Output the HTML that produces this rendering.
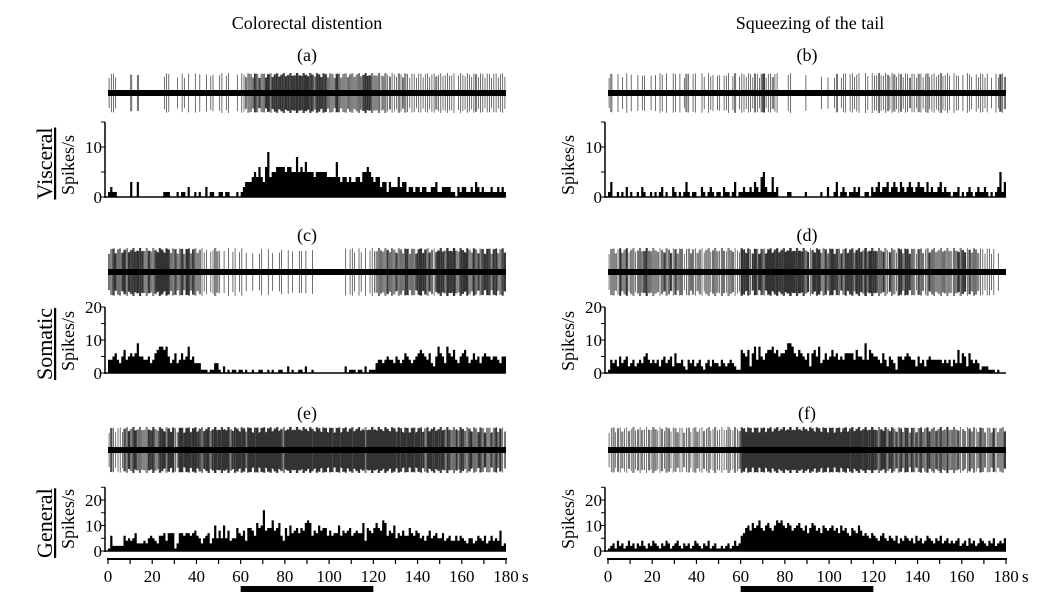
<!DOCTYPE html>
<html><head><meta charset="utf-8"><style>
body{margin:0;background:#fff;width:1056px;height:603px;overflow:hidden}
svg text{font-family:"Liberation Serif",serif;fill:#000}
</style></head><body>
<svg id="fig" width="1056" height="603" viewBox="0 0 1056 603" font-family="Liberation Serif, serif">
<text x="307" y="29" font-size="18" font-family="Liberation Serif, serif" text-anchor="middle">Colorectal distention</text>
<text x="810" y="29" font-size="18" font-family="Liberation Serif, serif" text-anchor="middle">Squeezing of the tail</text>
</svg>
<script>
// Spikes/s per 1-s bin, 180 bins per panel
const binsVisceralLeft=[1,2,1,1,0,0,0,0,0,0,3,0,0,3,0,0,0,0,0,0, 0,0,0,0,0,1,1,1,0,0,0,1,0,1,1,0,2,0,0,1, 0,1,0,0,2,0,1,1,0,0,1,1,0,1,1,0,0,0,1,0, 1,2,3,3,3,4,5,4,6,4,3,6,9,4,5,5,6,6,6,6, 5,6,6,5,5,8,5,6,5,7,5,5,5,4,5,5,5,5,5,4, 4,4,4,7,4,3,4,4,3,4,3,3,4,4,3,5,5,6,5,4, 3,4,4,2,3,3,1,3,2,2,2,4,2,3,3,1,2,2,1,2, 2,1,2,2,1,1,2,2,3,1,1,2,2,2,2,1,1,0,2,1, 2,2,1,1,2,1,3,2,1,2,1,1,1,2,1,1,2,1,2,1];
const binsVisceralRight=[1,3,0,0,1,0,1,0,2,0,1,0,0,1,0,2,1,0,0,1, 0,1,0,1,2,0,1,0,0,2,1,0,1,0,1,3,1,0,1,1, 0,0,2,1,0,1,2,1,0,1,1,0,2,1,1,0,1,3,0,1, 1,2,1,1,2,1,3,2,1,4,5,2,1,1,4,1,2,0,0,0, 0,1,1,0,0,0,0,0,0,1,0,0,0,0,0,0,1,0,0,2, 0,0,1,3,0,1,2,1,0,1,1,2,1,2,0,0,1,1,0,2, 1,2,3,1,2,2,3,1,2,3,2,1,3,2,1,2,3,2,1,2, 3,2,2,1,3,1,2,1,1,2,3,1,2,1,1,0,1,1,2,0, 1,0,1,2,1,0,1,2,1,1,2,1,0,1,0,1,2,5,1,3];
const binsSomaticLeft=[4,4,5,6,4,3,5,7,4,5,6,5,6,9,5,5,4,4,5,3, 4,6,7,8,8,7,8,5,3,4,6,3,4,6,4,5,8,4,5,3, 3,3,1,1,1,0,1,1,3,3, 1,0,2,0,1,0,1,1,0,1, 1,0,1,0,0,1,0,0,1,1, 0,0,1,0,1,0,0,1,1,0, 0,2,0,1,0,0,1,1,0,2, 0,0,1,0,0,0,0,0,0,0, 0,0,0,0,0,0,0,2,0,1, 1,1,0,1,1,0,2,0,1,1, 1,3,4,4,3,4,5,4,4,3, 5,4,3,4,6,5,4,3,4,5, 6,7,6,5,4,6,3,2,5,8, 6,5,3,8,6,5,7,4,3,5, 6,7,5,3,4,6,4,5,3,5, 6,5,5,4,5,5,4,3,5,5];
const binsSomaticRight=[1,4,3,4,2,5,3,4,5,2,3,4,2,3,4,3,5,6,4,3, 4,3,4,2,4,5,3,4,5,2,6,3,3,4,2,1,4,3,4,2, 3,4,2,1,3,4,2,4,3,3,2,4,3,2,3,4,3,2,1,1, 7,6,5,7,2,6,8,4,8,5,4,6,7,7,8,6,7,5,6,6, 7,9,9,8,6,5,7,6,5,4,6,2,6,7,5,8,3,4,6,4, 5,7,5,6,4,5,4,6,6,6,6,4,7,5,5,4,9,4,7,6, 5,5,4,3,6,4,2,5,4,3,1,5,5,4,5,6,5,4,4,2, 5,3,4,2,4,5,4,4,4,4,4,3,4,3,4,2,4,3,7,3, 6,5,2,6,4,3,4,3,1,2,2,2,1,1,1,0,1,0,0,0];
const binsGeneralLeft=[1,6,2,2,2,2,2,6,4,5,4,5,7,3,3,3,4,3,5,6, 5,4,3,6,6,7,4,7,7,7,1,3,7,7,6,7,7,6,7,8, 6,5,3,5,6,7,3,5,10,5,8,5,10,5,8,4,5,5,9,7, 6,8,4,9,9,8,6,11,9,10,16,8,9,9,12,8,9,11,6,4, 9,6,10,7,8,9,7,9,8,11,12,11,6,8,7,10,8,9,9,6, 8,6,7,7,10,6,8,7,8,9,6,7,8,7,7,11,4,9,8,7, 9,11,9,8,12,11,6,8,7,10,5,7,6,8,6,6,9,7,6,8, 7,5,6,4,6,8,5,6,7,5,5,7,4,5,6,4,4,6,4,6, 5,4,3,5,5,3,4,6,5,4,6,3,4,6,4,5,4,8,2,3];
const binsGeneralRight=[1,2,3,1,4,2,3,1,2,4,2,3,1,3,2,4,2,1,3,2, 4,3,2,1,3,2,4,3,1,2,3,4,2,1,3,2,3,1,2,4, 3,2,1,3,2,4,1,2,3,1,1,2,1,2,3,1,2,4,2,3, 6,7,9,10,8,11,9,10,12,9,8,10,11,9,8,10,12,11,12,10, 9,11,10,8,9,10,11,9,8,10,7,9,11,10,8,9,7,10,9,8, 9,10,8,9,7,10,8,9,7,6,9,8,7,10,8,6,7,6,5,7, 6,5,4,6,7,5,4,6,5,4,6,3,5,4,6,5,4,5,3,6, 4,5,3,4,6,5,4,3,5,4,6,3,4,5,3,4,3,4,5,2, 3,4,2,5,3,4,2,3,5,4,3,2,4,3,5,2,3,4,3,5];
const xTicks=[0,20,40,60,80,100,120,140,160,180];
const stimulus=[60,120];

const svg=document.getElementById('fig');
const NS='http://www.w3.org/2000/svg';
const FF='Liberation Serif, serif';
function mk(tag,attrs,parent){const e=document.createElementNS(NS,tag);for(const k in attrs)e.setAttribute(k,attrs[k]);if(tag==='text')e.setAttribute('font-family',FF);(parent||svg).appendChild(e);return e;}

const cols=[{x0:108,x1:506,axis:105},{x0:608,x1:1006,axis:605}];
const rows=[
 {label:'Visceral',yZero:197,ppu:5.0,ymax:15,yt:[0,10],traceY:93,amp:20,labY:55,tl:['(a)','(b)'],data:[binsVisceralLeft,binsVisceralRight]},
 {label:'Somatic',yZero:373,ppu:3.3,ymax:20,yt:[0,10,20],traceY:272,amp:24,labY:235,tl:['(c)','(d)'],data:[binsSomaticLeft,binsSomaticRight]},
 {label:'General',yZero:551,ppu:2.55,ymax:25,yt:[0,10,20],traceY:450,amp:23,labY:413,tl:['(e)','(f)'],data:[binsGeneralLeft,binsGeneralRight]}
];

rows.forEach((r,ri)=>{
  const cy=r.yZero-r.ymax*r.ppu/2;
  const g=mk('g',{transform:`translate(52,${cy+4}) rotate(-90)`});
  
  
  const t=mk('text',{x:0,y:0,'font-size':22,'text-anchor':'middle','text-decoration':'underline'},g);t.textContent=r.label;
  cols.forEach((c,ci)=>{
    const data=r.data[ci];
    const xs=s=>c.x0+(s/180)*(c.x1-c.x0);
    const ys=v=>r.yZero-v*r.ppu;
    const side=ci?'right':'left';
    const pl=mk('text',{x:(c.x0+c.x1)/2,y:r.labY+6,'font-size':18,'text-anchor':'middle'});pl.textContent=r.tl[ci];
    
    
    const yg=mk('g',{transform:`translate(${c.axis-31},${r.yZero-32}) rotate(-90)`});
    
    
    const yt=mk('text',{x:0,y:0,'font-size':18,'text-anchor':'middle'},yg);yt.textContent='Spikes/s';
    const ax=mk('line',{x1:c.axis,x2:c.axis,y1:ys(r.ymax),y2:r.yZero+1,stroke:'#000','stroke-width':1.5});
    
    
    for(let v=0;v<=r.ymax;v+=5){mk('line',{x1:c.axis-4,x2:c.axis,y1:ys(v),y2:ys(v),stroke:'#000','stroke-width':1});}
    r.yt.forEach(v=>{const tt=mk('text',{x:c.axis-3,y:ys(v)+6,'font-size':17,'text-anchor':'end'});tt.textContent=v;
      
      });
    let d=`M${xs(0)},${ys(0)}`;
    data.forEach((v,i)=>{d+=`L${xs(i)},${ys(v)}L${xs(i+1)},${ys(v)}`;});
    d+=`L${xs(data.length)},${ys(0)}Z`;
    const h=mk('path',{d:d,fill:'#000'});
    
    
    mk('line',{x1:c.axis,x2:c.x1,y1:r.yZero,y2:r.yZero,stroke:'#000','stroke-width':1.5});
    const tg=mk('g',{});
    
    
    let sp='';
    data.forEach((v,i)=>{const n=Math.ceil(v/2);for(let k=0;k<n;k++){const x=xs(i+(k+0.5)/n);const a=r.amp*(0.75+0.25*Math.abs(Math.sin(i*7.3+k*3.1)));sp+=`M${x.toFixed(1)},${(r.traceY-a).toFixed(1)}L${x.toFixed(1)},${(r.traceY+a).toFixed(1)}`;}});
    mk('path',{d:sp,stroke:'#333','stroke-width':0.7,fill:'none'},tg);
    mk('rect',{x:c.x0,y:r.traceY-3,width:c.x1-c.x0,height:6,fill:'#000'},tg);
  });
});

cols.forEach((c,ci)=>{
  const xs=s=>c.x0+(s/180)*(c.x1-c.x0);
  const ax=mk('line',{x1:xs(0)-1,x2:xs(180)+1,y1:559,y2:559,stroke:'#000','stroke-width':2});
  
  
  for(let s=0;s<=180;s+=10)mk('line',{x1:xs(s),x2:xs(s),y1:559,y2:564,stroke:'#000','stroke-width':1.2});
  xTicks.forEach(s=>{const t=mk('text',{x:xs(s),y:582,'font-size':17,'text-anchor':'middle'});t.textContent=s;
    
    });
  const u=mk('text',{x:xs(180)+16,y:582,'font-size':17});u.textContent='s';
  
  
  const b=mk('rect',{x:xs(stimulus[0]),y:586,width:xs(stimulus[1])-xs(stimulus[0]),height:6,fill:'#000'});
  
  
});
</script>
</body></html>
